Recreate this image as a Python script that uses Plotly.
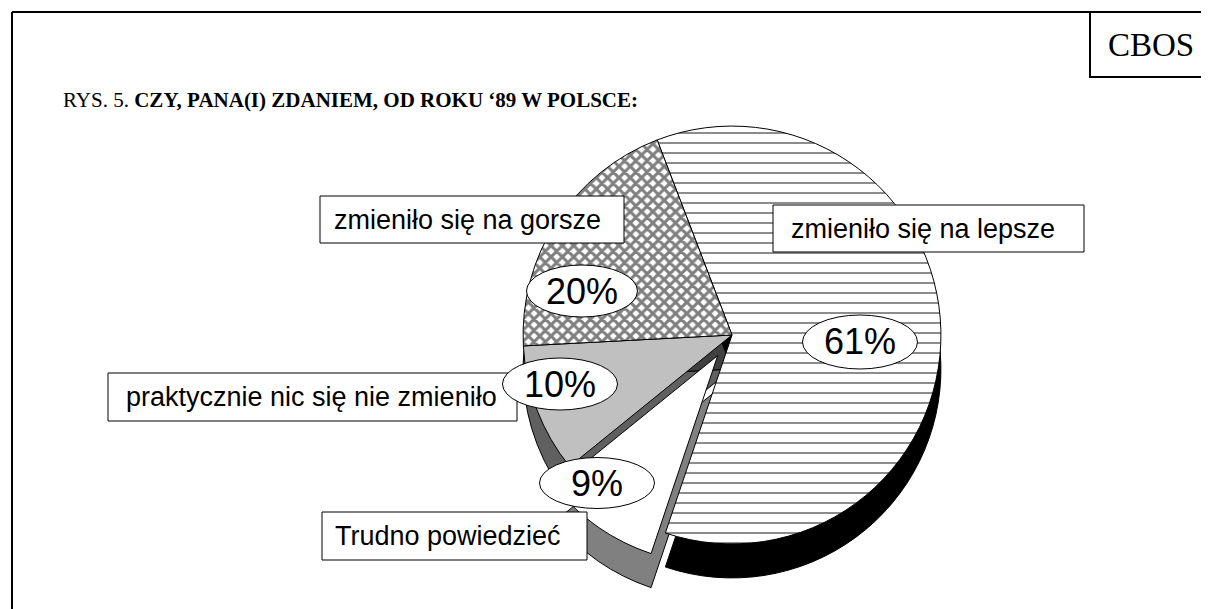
import plotly.graph_objects as go

# ---- data ----
categories = ["zmieniło się na lepsze", "Trudno powiedzieć",
              "praktycznie nic się nie zmieniło", "zmieniło się na gorsze"]
values = [61, 9, 10, 20]
title_prefix = "RYS. 5. "
title_main = "CZY, PANA(I) ZDANIEM, OD ROKU ‘89 W POLSCE:"
source_label = "CBOS"

# ---- styling / layout ----
OFF = 8                      # page body margin
W, H = 1209 - OFF, 609 - OFF
def fx(x): return (x - OFF) / W
def fy(y): return 1 - (y - OFF) / H

top_colors = ["white", "white", "#c0c0c0", "white"]
side_colors = ["black", "#808080", "#606060", "#404040"]
patterns = ["-", "", "", "x"]
pulls = [0, 0.12, 0, 0]

cx, cy, half = 732, 335, 234
depth = 34

fig = go.Figure()
# side (depth) pie
fig.add_trace(go.Pie(
    labels=categories, values=values, sort=False, direction="clockwise",
    rotation=-21, pull=pulls, textinfo="none", hoverinfo="skip",
    marker=dict(colors=side_colors, line=dict(color="black", width=1)),
    domain=dict(x=[fx(cx - half), fx(cx + half)],
                y=[max(0, fy(cy + depth + half)), fy(cy + depth - half)]),
    showlegend=False))
# top pie
fig.add_trace(go.Pie(
    labels=categories, values=values, sort=False, direction="clockwise",
    rotation=-21, pull=pulls, textinfo="none",
    marker=dict(colors=top_colors, line=dict(color="black", width=1),
                pattern=dict(shape=patterns, fgcolor="black", bgcolor=top_colors,
                             size=[10, 8, 8, 8], solidity=[0.18, 0.2, 0.2, 0.62],
                             fillmode="overlay")),
    domain=dict(x=[fx(cx - half), fx(cx + half)],
                y=[fy(cy + half), fy(cy - half)]),
    showlegend=False))

shapes = []
annotations = []

# outer frame
shapes.append(dict(type="line", xref="paper", yref="paper", x0=fx(12), x1=fx(12),
                   y0=fy(12), y1=fy(615), line=dict(color="black", width=2)))
shapes.append(dict(type="line", xref="paper", yref="paper", x0=fx(12), x1=fx(1215),
                   y0=fy(12), y1=fy(12), line=dict(color="black", width=2)))
# CBOS box
shapes.append(dict(type="rect", xref="paper", yref="paper", x0=fx(1090), x1=fx(1215),
                   y0=fy(77), y1=fy(12), line=dict(color="black", width=2)))
annotations.append(dict(xref="paper", yref="paper", x=fx(1151), y=fy(45),
                        xanchor="center", yanchor="middle",
                        text=source_label, showarrow=False,
                        font=dict(family="Liberation Serif", size=33, color="black")))
# title
annotations.append(dict(xref="paper", yref="paper", x=fx(61), y=fy(100),
                        xanchor="left", yanchor="middle",
                        text=title_prefix + "<b>" + title_main + "</b>", showarrow=False,
                        font=dict(family="Liberation Serif", size=21, color="black")))

# category label boxes: (x0, x1, y0, y1, text_x)
label_boxes = [
    (773, 1084, 205, 252, 789),
    (322, 587, 512, 560, 333),
    (108, 517, 373, 421, 124),
    (320, 624, 196, 243, 332),
]
for cat, (x0, x1, y0, y1, tx) in zip(categories, label_boxes):
    shapes.append(dict(type="rect", xref="paper", yref="paper", x0=fx(x0), x1=fx(x1),
                       y0=fy(y1), y1=fy(y0), fillcolor="white",
                       line=dict(color="black", width=1), layer="above"))
    annotations.append(dict(xref="paper", yref="paper", x=fx(tx), y=fy((y0 + y1) / 2),
                            xanchor="left", yanchor="middle", text=cat, showarrow=False,
                            font=dict(family="Liberation Sans", size=27, color="black")))

# percentage ellipses: (cx, cy, w, h)
pct_ellipses = [
    (860, 342, 115, 54),
    (597, 483, 115, 51),
    (560, 384, 115, 52),
    (582, 291, 111, 52),
]
for v, (ex, ey, ew, eh) in zip(values, pct_ellipses):
    shapes.append(dict(type="circle", xref="paper", yref="paper",
                       x0=fx(ex - ew / 2), x1=fx(ex + ew / 2),
                       y0=fy(ey + eh / 2), y1=fy(ey - eh / 2), fillcolor="white",
                       line=dict(color="black", width=1), layer="above"))
    annotations.append(dict(xref="paper", yref="paper", x=fx(ex), y=fy(ey),
                            xanchor="center", yanchor="middle",
                            text=f"{v}%", showarrow=False,
                            font=dict(family="Liberation Sans", size=36, color="black")))

fig.update_layout(width=W, height=H, margin=dict(l=0, r=0, t=0, b=0),
                  paper_bgcolor="white", plot_bgcolor="white",
                  shapes=shapes, annotations=annotations)

fig.write_html("out.html")
